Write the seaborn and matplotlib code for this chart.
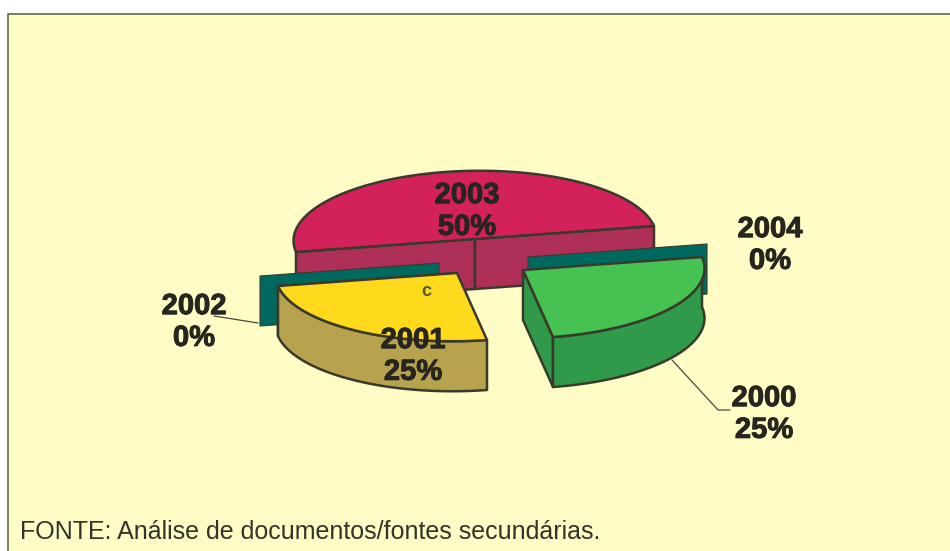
import numpy as np
import pandas as pd
import matplotlib
matplotlib.use("Agg")
import matplotlib.pyplot as plt
import matplotlib.patheffects as pe
import seaborn as sns

years = ["2000", "2001", "2002", "2003", "2004"]
shares = [25, 25, 0, 50, 0]

top_colors = ["#46C252", "#FFD91C", "#00695F", "#D3215A", "#00695F"]
side_colors = ["#2F9A4A", "#B7A24E", "#00695F", "#AE2F58", "#00695F"]

# where each exploded slice has its tip, in pixels
tips = {"2000": (523, 270), "2001": (457, 273), "2002": (439, 263),
        "2003": (475, 239), "2004": (528, 257)}
label_pos = {"2000": (764, 414), "2001": (413, 356), "2002": (194, 322),
             "2003": (467, 211), "2004": (770, 245)}

# the pie disc seen in perspective
u = np.array([179, -13])
v = np.array([30, 67])
depth = 50
edge = "#3A3A2C"
text_col = "#26261E"

df = pd.DataFrame({"year": years, "share": shares, "top": top_colors, "side": side_colors})
df["end"] = df["share"].cumsum() / df["share"].sum() * 2 * np.pi
df["start"] = df["end"].shift(fill_value=0.0)


def rim(tip, t0, t1):
    t = np.linspace(t0, t1, 80)
    return np.array(tip) + np.outer(np.cos(t), u) + np.outer(np.sin(t), v)


def draw_poly(ax, pts, color, z, lw=1.8):
    ax.fill(pts[:, 0], pts[:, 1], facecolor=color, edgecolor=edge, linewidth=lw,
            joinstyle="round", zorder=z)


def draw_slice(ax, row, z):
    tip = np.array(tips[row.year], dtype=float)
    down = np.array([0, depth])
    if row.share == 0:
        # empty slice: only a flat upright sheet
        end = rim(tip, row.end, row.end)[0]
        pts = np.array([tip, end, end + down, tip + down])
        draw_poly(ax, pts, row.top, z, lw=0.8)
        return
    arc = rim(tip, row.start, row.end)
    if row.year == "2003":
        # back half: the two cut faces show
        left, right = arc[0], arc[-1]
        draw_poly(ax, np.array([left, tip, tip + down, left + down]), row.side, z)
        draw_poly(ax, np.array([tip, right, right + down, tip + down]), row.side, z)
    else:
        draw_poly(ax, np.vstack([tip, arc[-1], arc[-1] + down, tip + down]), row.side, z)
        draw_poly(ax, np.vstack([arc, (arc + down)[::-1]]), row.side, z)
    draw_poly(ax, np.vstack([tip, arc]), row.top, z + 0.5)


sns.set_theme(style="white")
plt.rcParams["font.family"] = ["Liberation Sans", "DejaVu Sans"]

fig = plt.figure(figsize=(9.5, 5.51), dpi=100, facecolor="#FFFFFF")
ax = fig.add_axes([0, 0, 1, 1])
ax.set_xlim(0, 950)
ax.set_ylim(551, 0)
ax.axis("off")

ax.fill([8, 950, 950, 8], [14, 14, 551, 551], facecolor="#FFFCC6", edgecolor="none", zorder=0)
ax.plot([8, 8, 950], [551, 14, 14], color="#66664F", lw=1.2, zorder=0.5)

order = {"2003": 1, "2004": 2, "2002": 2, "2001": 3, "2000": 3}
for row in df.itertuples():
    draw_slice(ax, row, order[row.year])

# leader lines
ax.plot([672, 718, 730], [360, 410, 410], color="#4A4A40", lw=0.9, zorder=5)
ax.plot([214, 258], [316, 323], color="#4A4A40", lw=0.9, zorder=5)

for row in df.itertuples():
    x, y = label_pos[row.year]
    t = ax.text(x, y, f"{row.year}\n{row.share}%", ha="center", va="center", fontsize=21,
                fontweight="bold", color=text_col, linespacing=1.17, zorder=6)
    t.set_path_effects([pe.withStroke(linewidth=0.7, foreground=text_col)])

ax.text(426, 292, "c", ha="center", va="center", fontsize=13, fontweight="bold",
        color="#55553A", zorder=6)
ax.text(20, 532, "FONTE: Análise de documentos/fontes secundárias.", ha="left", va="center",
        fontsize=18, color="#33332A", zorder=6)

fig.savefig("out.png", dpi=100, facecolor=fig.get_facecolor())
